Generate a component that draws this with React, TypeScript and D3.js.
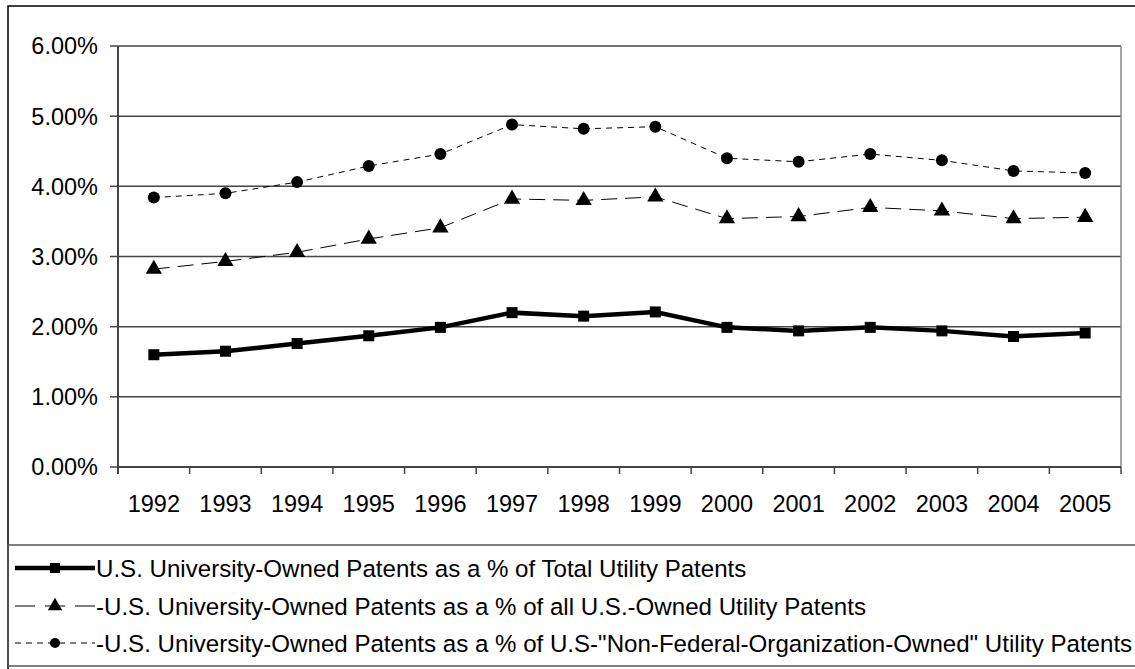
import React from "react";
import * as d3 from "d3";

const years = ["1992","1993","1994","1995","1996","1997","1998","1999","2000","2001","2002","2003","2004","2005"];
const totalPct = [1.60, 1.65, 1.76, 1.87, 1.99, 2.20, 2.15, 2.21, 1.99, 1.94, 1.99, 1.94, 1.86, 1.91];
const usOwnedPct = [2.82, 2.93, 3.06, 3.25, 3.41, 3.82, 3.80, 3.85, 3.54, 3.57, 3.70, 3.65, 3.54, 3.56];
const nonFedPct = [3.84, 3.90, 4.06, 4.29, 4.46, 4.88, 4.82, 4.85, 4.40, 4.35, 4.46, 4.37, 4.22, 4.19];
const yTicks = [0, 1, 2, 3, 4, 5, 6];
const legendLabels = [
  "U.S. University-Owned Patents as a % of Total Utility Patents",
  "-U.S. University-Owned Patents as a % of all U.S.-Owned Utility Patents",
  "-U.S. University-Owned Patents as a % of U.S-\"Non-Federal-Organization-Owned\" Utility Patents",
];

const W = 1135, H = 669;
const plot = { left: 118, right: 1121, top: 46, bottom: 467 };
const FONT = "'Liberation Sans', Arial, sans-serif";
const FS = 23.5;
const LFS = 24.1;

export default function App() {
  const x = d3.scaleBand<string>().domain(years).range([plot.left, plot.right]).padding(0);
  const y = d3.scaleLinear().domain([0, 6]).range([plot.bottom, plot.top]);
  const cx = (yr: string) => (x(yr) as number) + x.bandwidth() / 2;
  const line = d3.line<number>().x((_, i) => cx(years[i])).y((v) => y(v));
  const tri = d3.symbol().type(d3.symbolTriangle).size(115)();
  const legendY = [568, 606, 643];

  return (
    <svg width={W} height={H} style={{ position: "absolute", left: 0, top: 0, background: "#fff" }} fontFamily={FONT}>
      <rect x={0} y={0} width={W} height={H} fill="#fff" />
      {/* outer chart border */}
      <rect x={8} y={6} width={W + 10} height={H + 10} fill="none" stroke="#000" strokeWidth={1.5} />
      {/* gridlines */}
      {yTicks.map((t) => (
        <line key={"g" + t} x1={plot.left} x2={plot.right} y1={y(t)} y2={y(t)} stroke="#444" strokeWidth={1.5} />
      ))}
      {/* plot right border */}
      <line x1={plot.right} x2={plot.right} y1={plot.top} y2={plot.bottom} stroke="#888" strokeWidth={1.5} />
      {/* y axis */}
      <line x1={plot.left} x2={plot.left} y1={plot.top} y2={plot.bottom + 7} stroke="#444" strokeWidth={2} />
      {yTicks.map((t) => (
        <g key={"yt" + t}>
          <line x1={plot.left - 8} x2={plot.left} y1={y(t)} y2={y(t)} stroke="#444" strokeWidth={1.5} />
          <text x={98} y={y(t)} dy="0.36em" textAnchor="end" fontSize={FS} fill="#000">
            {d3.format(".2f")(t) + "%"}
          </text>
        </g>
      ))}
      {/* x axis */}
      <line x1={plot.left} x2={plot.right} y1={plot.bottom} y2={plot.bottom} stroke="#444" strokeWidth={2} />
      {years.map((yr) => (
        <line key={"xt" + yr} x1={(x(yr) as number) + x.bandwidth()} x2={(x(yr) as number) + x.bandwidth()} y1={plot.bottom} y2={plot.bottom + 7} stroke="#444" strokeWidth={1.5} />
      ))}
      {years.map((yr) => (
        <text key={"xl" + yr} x={cx(yr)} y={504} dy="0.36em" textAnchor="middle" fontSize={FS} fill="#000">
          {yr}
        </text>
      ))}
      {/* series 3: short dashed with circles */}
      <path d={line(nonFedPct) || ""} fill="none" stroke="#000" strokeWidth={1} strokeDasharray="6,5" />
      {nonFedPct.map((v, i) => (
        <circle key={"c" + i} cx={cx(years[i])} cy={y(v)} r={6} fill="#000" />
      ))}
      {/* series 2: long dashed with triangles */}
      <path d={line(usOwnedPct) || ""} fill="none" stroke="#000" strokeWidth={1} strokeDasharray="16,8" />
      {usOwnedPct.map((v, i) => (
        <path key={"t" + i} d={tri || ""} transform={`translate(${cx(years[i])},${y(v)})`} fill="#000" />
      ))}
      {/* series 1: thick solid with squares */}
      <path d={line(totalPct) || ""} fill="none" stroke="#000" strokeWidth={4.5} />
      {totalPct.map((v, i) => (
        <rect key={"s" + i} x={cx(years[i]) - 5.5} y={y(v) - 5.5} width={11} height={11} fill="#000" />
      ))}
      {/* legend box */}
      <rect x={8} y={545} width={W + 10} height={121} fill="none" stroke="#555" strokeWidth={1.5} />
      {/* legend entries */}
      <line x1={15} x2={95} y1={legendY[0]} y2={legendY[0]} stroke="#000" strokeWidth={4.5} />
      <rect x={50} y={legendY[0] - 5} width={10} height={10} fill="#000" />
      <line x1={15} x2={95} y1={legendY[1]} y2={legendY[1]} stroke="#000" strokeWidth={1} strokeDasharray="20,10" />
      <path d={d3.symbol().type(d3.symbolTriangle).size(90)() || ""} transform={`translate(55,${legendY[1]})`} fill="#000" />
      <line x1={15} x2={95} y1={legendY[2]} y2={legendY[2]} stroke="#000" strokeWidth={1} strokeDasharray="6,5" />
      <circle cx={55} cy={legendY[2]} r={5} fill="#000" />
      {legendLabels.map((l, i) => (
        <text key={"lg" + i} x={96} y={legendY[i]} dy="0.36em" fontSize={LFS} fill="#000">
          {l}
        </text>
      ))}
    </svg>
  );
}
